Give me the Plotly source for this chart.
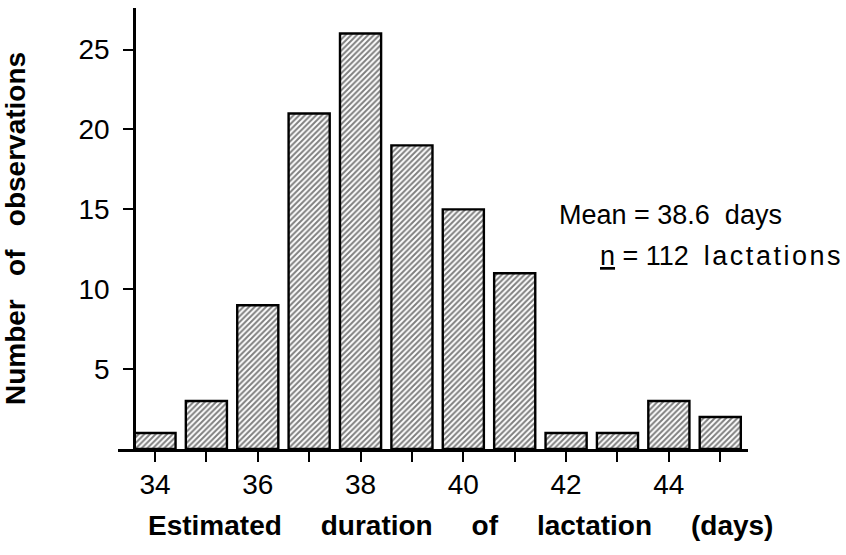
import plotly.graph_objects as go

days = [34, 35, 36, 37, 38, 39, 40, 41, 42, 43, 44, 45]
counts = [1, 3, 9, 21, 26, 19, 15, 11, 1, 1, 3, 2]
x_tick_vals = list(range(34, 46))
x_tick_text = ["34", "", "36", "", "38", "", "40", "", "42", "", "44", ""]
y_tick_vals = [5, 10, 15, 20, 25]

NB = "\u00a0"
FONT = "Liberation Sans, Arial, sans-serif"

L, R, T, B = 118, 98, 8, 106
PW, PH = 846 - L - R, 555 - T - B

fig = go.Figure(go.Bar(
    x=days, y=counts, width=0.8,
    marker=dict(color="white", line=dict(color="black", width=2.4),
                pattern=dict(shape="/", size=4, solidity=0.5, fgcolor="black", bgcolor="white")),
))

fig.update_layout(
    width=846, height=555,
    margin=dict(l=L, r=R, t=T, b=B, autoexpand=False),
    plot_bgcolor="white", paper_bgcolor="white",
    showlegend=False,
    font=dict(family=FONT, color="black", size=27),
    xaxis=dict(range=[33.28, 45.54], tickvals=x_tick_vals, ticktext=x_tick_text,
               ticks="outside", ticklen=10, tickwidth=2, tickcolor="black",
               showline=True, linecolor="black", linewidth=3, showgrid=False, zeroline=False,
               tickfont=dict(size=28), ticklabelstandoff=-2, automargin=False),
    yaxis=dict(range=[0, 27.6], tickvals=y_tick_vals, anchor="free", position=16/PW,
               ticks="outside", ticklen=10, tickwidth=2, tickcolor="black",
               showline=True, linecolor="black", linewidth=2.5, showgrid=False, zeroline=False,
               tickfont=dict(size=28), ticklabelstandoff=8, automargin=False,
               title=dict(text=f"<b>Number{NB*3}of{NB*3}observations</b>", font=dict(size=28), standoff=47)),
)

# x-axis title placed as annotation (centred under the bars, as in the original)
fig.add_annotation(x=(461 - L) / PW, y=(449 - 525) / PH, xref="paper", yref="paper",
                   text=f"<b>Estimated{NB*5}duration{NB*5}of{NB*5}lactation{NB*5}(days)</b>",
                   showarrow=False, xanchor="center", yanchor="middle", font=dict(size=28))

fig.add_annotation(x=(557 - L) / PW, y=(449 - 215) / PH, xref="paper", yref="paper",
                   text=f"Mean = 38.6{NB}{NB}days",
                   showarrow=False, xanchor="left", yanchor="middle", font=dict(size=27))
fig.add_annotation(x=(598 - L) / PW, y=(449 - 256) / PH, xref="paper", yref="paper",
                   text=(f'<span style="text-decoration:underline">n</span> = 112{NB}{NB}'
                         f'<span style="letter-spacing:2.5px">lactations</span>'),
                   showarrow=False, xanchor="left", yanchor="middle", font=dict(size=27))

fig.write_html("out.html", config={"displayModeBar": False},
               post_script="document.body.style.margin='0';")
